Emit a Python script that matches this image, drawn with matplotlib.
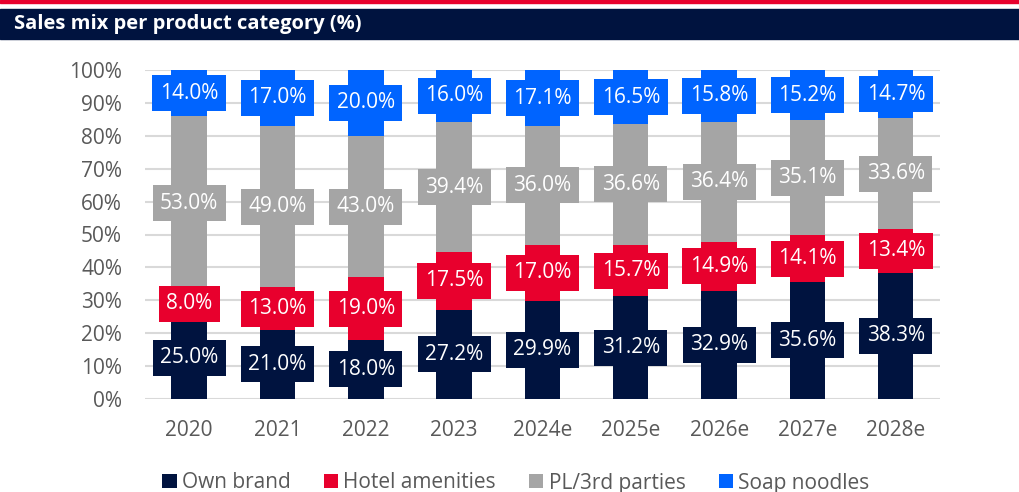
import numpy as np
import matplotlib.pyplot as plt
from matplotlib.patches import Rectangle

plt.rcParams['font.family'] = ['Open Sans', 'DejaVu Sans']

years = ['2020', '2021', '2022', '2023', '2024e', '2025e', '2026e', '2027e', '2028e']
own_brand = [25.0, 21.0, 18.0, 27.2, 29.9, 31.2, 32.9, 35.6, 38.3]
hotel = [8.0, 13.0, 19.0, 17.5, 17.0, 15.7, 14.9, 14.1, 13.4]
pl_3rd = [53.0, 49.0, 43.0, 39.4, 36.0, 36.6, 36.4, 35.1, 33.6]
soap = [14.0, 17.0, 20.0, 16.0, 17.1, 16.5, 15.8, 15.2, 14.7]

series = [('Own brand', own_brand, '#00133F'),
          ('Hotel amenities', hotel, '#E8002D'),
          ('PL/3rd parties', pl_3rd, '#A5A5A5'),
          ('Soap noodles', soap, '#0064FF')]

fig = plt.figure(figsize=(10.2, 4.92), dpi=100)

# red rule + title banner
fig.patches.append(Rectangle((0, 1 - 2.5 / 492), 1, 2.5 / 492, transform=fig.transFigure,
                             color='#E8002D', zorder=0))
fig.patches.append(Rectangle((0, 1 - 39 / 492), 1, 30 / 492, transform=fig.transFigure,
                             color='#00133F', zorder=0))
fig.text(14 / 1020, 1 - 24.5 / 492, 'Sales mix per product category (%)', color='white',
         fontsize=14.5, fontweight='bold', va='center', ha='left')

ax = fig.add_axes([145 / 1020, 1 - 399 / 492, 795 / 1020, 329 / 492])
x = np.arange(len(years))
bottom = np.zeros(len(years))
for name, vals, col in series:
    vals = np.array(vals)
    ax.bar(x, vals / 100, 0.4, bottom=bottom / 100, color=col, label=name, zorder=2)
    for xi, b, v in zip(x, bottom, vals):
        ax.text(xi, (b + v / 2) / 100, f'{v:.1f}%', ha='center', va='center',
                color='white', fontsize=15, zorder=3,
                bbox=dict(boxstyle='square,pad=0.36', fc=col, ec='none'))
    bottom += vals

ax.set_xlim(-0.5, len(years) - 0.5)
ax.set_ylim(0, 1.0)
ax.set_yticks(np.arange(0, 1.01, 0.1))
ax.set_yticklabels([f'{int(round(t * 100))}%' for t in np.arange(0, 1.01, 0.1)])
ax.set_xticks(x)
ax.set_xticklabels(years)
ax.tick_params(length=0, labelsize=15, colors='#595959')
ax.tick_params(axis='x', pad=15)
ax.tick_params(axis='y', pad=16.5)
ax.grid(axis='y', color='#D9D9D9', lw=1.5, zorder=0)
for s in ax.spines.values():
    s.set_visible(False)

handles, labels = ax.get_legend_handles_labels()
fig.legend(handles, labels, loc='center', bbox_to_anchor=(516 / 1020, 1 - 483 / 492),
           ncol=4, frameon=False, fontsize=15, handlelength=0.68, handleheight=0.68,
           handletextpad=0.25, columnspacing=1.6, labelcolor='#595959',
           borderaxespad=0, borderpad=0)

fig.savefig('out.png', dpi=100)
